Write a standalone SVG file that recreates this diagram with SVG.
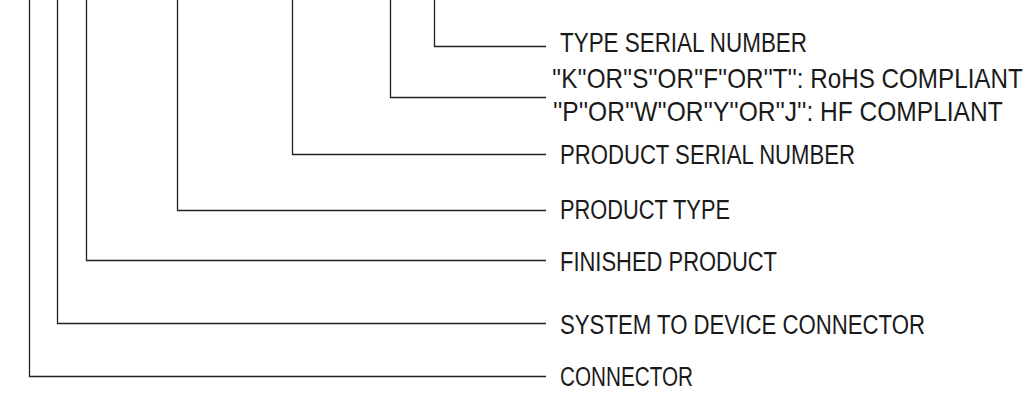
<svg xmlns="http://www.w3.org/2000/svg" width="1035" height="398" viewBox="0 0 1035 398">
<style>
.c{fill:none;stroke:#222;stroke-width:1.3}
.t{font-family:"Liberation Sans",Arial,sans-serif;font-size:27px;fill:#1a1a1a}
</style>
<rect width="1035" height="398" fill="#fff"/>
<g id="connectors">
<polyline class="c" points="434.5,0 434.5,46.5 546,46.5"/>
<polyline class="c" points="390.5,0 390.5,97.5 546,97.5"/>
<polyline class="c" points="292.5,0 292.5,154.5 546,154.5"/>
<polyline class="c" points="177.5,0 177.5,210.5 546,210.5"/>
<polyline class="c" points="86.5,0 86.5,260.5 546,260.5"/>
<polyline class="c" points="57.5,0 57.5,323.5 546,323.5"/>
<polyline class="c" points="29.5,0 29.5,376.5 546,376.5"/>
</g>
<g id="type-serial"><text class="t" x="560" y="52" textLength="247" lengthAdjust="spacingAndGlyphs">TYPE SERIAL NUMBER</text></g>
<g id="compliance">
<text class="t" transform="translate(552,88) scale(0.88,1)" x="0" y="0" textLength="535" lengthAdjust="spacingAndGlyphs">''K''OR''S''OR''F''OR''T'': RoHS COMPLIANT</text>
<text class="t" transform="translate(553,121) scale(0.88,1)" x="0" y="0" textLength="511" lengthAdjust="spacingAndGlyphs">''P''OR''W''OR''Y''OR''J'': HF COMPLIANT</text>
</g>
<g id="product-serial"><text class="t" x="560" y="164" textLength="295" lengthAdjust="spacingAndGlyphs">PRODUCT SERIAL NUMBER</text></g>
<g id="product-type"><text class="t" x="560" y="219" textLength="170" lengthAdjust="spacingAndGlyphs">PRODUCT TYPE</text></g>
<g id="finished-product"><text class="t" x="560" y="271" textLength="217" lengthAdjust="spacingAndGlyphs">FINISHED PRODUCT</text></g>
<g id="system-connector"><text class="t" x="560" y="334" textLength="365" lengthAdjust="spacingAndGlyphs">SYSTEM TO DEVICE CONNECTOR</text></g>
<g id="connector"><text class="t" x="560" y="386" textLength="133" lengthAdjust="spacingAndGlyphs">CONNECTOR</text></g>
</svg>
